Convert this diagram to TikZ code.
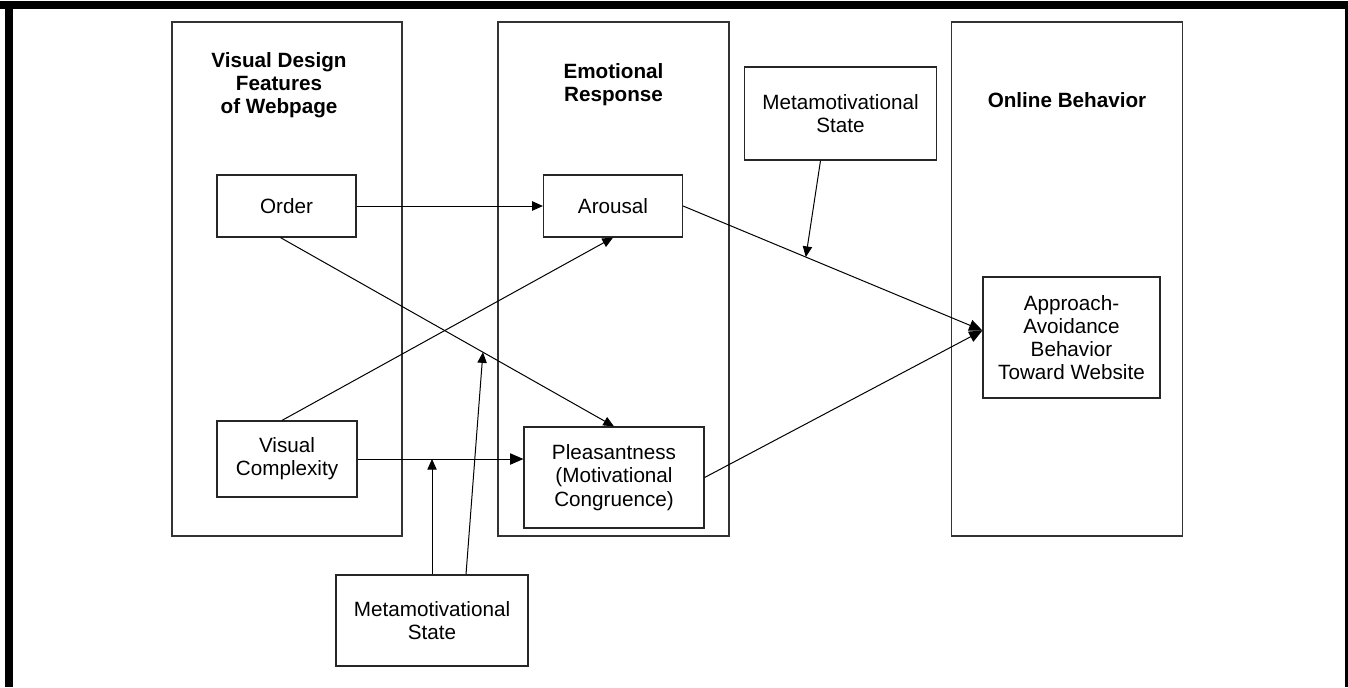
\documentclass[tikz,border=0pt]{standalone}
\usepackage{fontspec}
\setmainfont{Liberation Sans}
\usetikzlibrary{arrows.meta,calc}
\begin{document}
\def\u{0.75pt}
\begin{tikzpicture}[x=0.75pt,y=-0.75pt,
  panel/.style={draw=black!80, line width=1pt, inner sep=0pt},
  box/.style={draw=black!85, line width=0.9pt, align=center, inner sep=0pt, font=\fontsize{15.5}{17.4}\selectfont},
  ttl/.style={align=center, font=\fontsize{15.5}{17.4}\selectfont\bfseries, inner sep=0pt},
  arr/.style={draw, line width=0.75pt, -{Triangle[length=8pt,width=7pt]}},
  bigarr/.style={draw, line width=0.75pt, -{Triangle[length=10pt,width=8.5pt]}}]
\useasboundingbox (0,0) rectangle (1348,687);
% frame
\fill (0,1) rectangle (1348,9);
\fill (5,1) rectangle (13,687);
\fill (1345,1) rectangle (1348,687);
% panels
\node[panel, minimum width=230*\u, minimum height=514*\u] (p1) at (287,279) {};
\node[panel, minimum width=231*\u, minimum height=514*\u] (p2) at (613.5,279) {};
\node[panel, minimum width=231*\u, minimum height=514*\u] (p3) at (1067,279) {};
% titles
\node[ttl] (t1) at (279,85) {Visual Design\\Features\\of Webpage};
\node[ttl] (t2) at (613.5,84.5) {Emotional\\Response};
\node[ttl] (t3) at (1067,100) {Online Behavior};
% boxes
\node[box, minimum width=139*\u, minimum height=62*\u] (order) at (286.5,206) {Order};
\node[box, minimum width=140*\u, minimum height=76*\u] (vc) at (287,459) {Visual\\Complexity};
\node[box, minimum width=139*\u, minimum height=62*\u] (arousal) at (613,206) {Arousal};
\node[box, minimum width=180*\u, minimum height=101*\u] (pleas) at (614,477.5) {Pleasantness\\(Motivational\\Congruence)};
\node[box, minimum width=192*\u, minimum height=93*\u] (mt) at (840.5,113.5) {Metamotivational\\State};
\node[box, minimum width=177*\u, minimum height=121*\u] (app) at (1071.5,337.5) {Approach-\\Avoidance\\Behavior\\Toward Website};
\node[box, minimum width=192*\u, minimum height=91*\u] (mb) at (432,620.5) {Metamotivational\\State};
% connectors
\draw[arr] (order.east) -- (arousal.west);
\coordinate (o1) at ($(order.south)+(-6,0)$);
\coordinate (v1) at ($(vc.north)+(-5,0)$);
\draw[arr] (o1) -- (pleas.north);
\draw[arr] (v1) -- (arousal.south);
\draw[bigarr] (vc.east) -- (vc.east -| pleas.west);
\draw[arr] (mb.north) -- (mb.north |- vc.east);
\coordinate (m1) at ($(mb.north)+(34,0)$);
\coordinate (x1) at ($(o1)!0.607!(pleas.north)$);
\draw[arr] (m1) -- (x1);
\coordinate (a1) at ($(app.west)+(0,-7)$);
\draw[bigarr] (arousal.east) -- (a1);
\draw[bigarr] (pleas.east) -- (a1);
\coordinate (m2) at ($(mt.south)+(-20,0)$);
\coordinate (x2) at ($(arousal.east)!0.41!(a1)$);
\draw[arr] (m2) -- (x2);
\end{tikzpicture}
\end{document}
